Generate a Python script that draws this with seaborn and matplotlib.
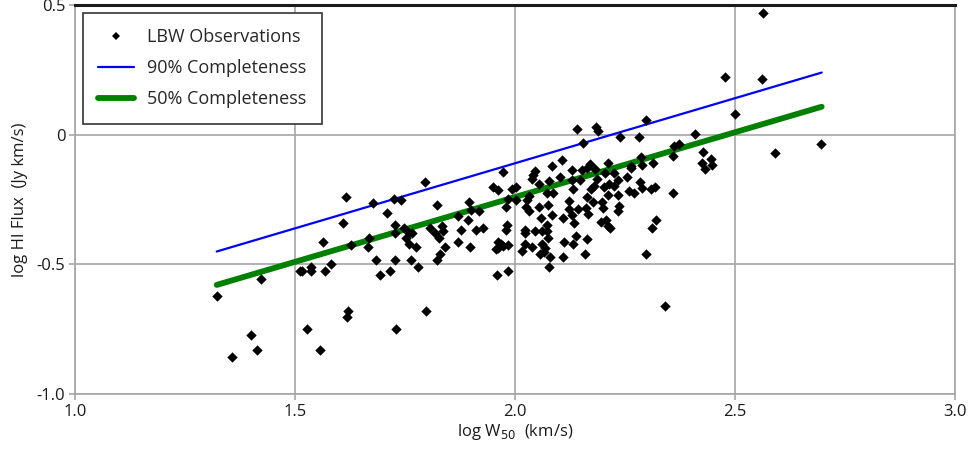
import matplotlib
matplotlib.use("Agg")
import matplotlib.pyplot as plt
import seaborn as sns
import pandas as pd
from matplotlib.lines import Line2D

# log W50 (km/s) of the LBW observations
obs_logw = [
    1.615, 1.677, 1.726, 1.708, 1.610, 1.728, 1.727, 1.564, 1.667, 1.627,
    1.666, 1.683, 1.727, 1.582, 1.537, 1.511, 1.516, 1.536, 1.568, 1.693,
    1.716, 1.423, 1.322, 1.621, 1.617, 1.528, 1.730, 1.401, 1.413, 1.356,
    1.557,
    2.140, 2.106, 2.085, 2.130, 1.973, 2.046, 2.042, 2.038, 2.102, 2.077,
    2.055, 1.795, 1.740, 1.951, 1.962, 1.993, 2.002, 2.072, 2.087, 2.131,
    2.031, 2.027, 1.984, 2.002, 1.895, 1.822, 1.979, 2.026, 2.055, 2.076,
    2.122, 1.899, 1.918, 1.870, 2.031, 2.122, 2.130, 2.085, 2.058, 2.108,
    1.893, 1.748, 1.806, 1.833, 1.837, 1.877, 1.911, 1.928, 1.981, 1.980,
    2.023, 2.023, 2.046, 2.061, 2.072, 2.073, 2.133, 1.760, 1.752, 1.765,
    1.819, 1.828, 1.758, 1.774, 1.842, 1.870, 1.898, 1.961, 1.968, 1.984,
    1.957, 1.962, 1.973, 2.023, 2.038, 2.062, 2.075, 2.069, 2.111, 2.132,
    2.139, 2.016, 2.057, 2.067, 2.080, 2.108, 1.830, 1.823, 1.764, 1.780,
    2.078, 1.958, 1.984, 1.798,
    2.500, 2.409, 2.298, 2.183, 2.189, 2.239, 2.281, 2.155, 2.427, 2.361,
    2.372, 2.358, 2.445, 2.426, 2.448, 2.431, 2.286, 2.314, 2.288, 2.263,
    2.264, 2.211, 2.170, 2.182, 2.163, 2.152, 2.226, 2.205, 2.255, 2.233,
    2.186, 2.147, 2.129, 2.284, 2.214, 2.224, 2.203, 2.180, 2.173, 2.289,
    2.309, 2.319, 2.258, 2.271, 2.358, 2.234, 2.211, 2.163, 2.177, 2.197,
    2.236, 2.200, 2.234, 2.162, 2.167, 2.144, 2.195, 2.207, 2.211, 2.216,
    2.320, 2.311, 2.164, 2.158, 2.298, 2.342,
    2.564, 2.477, 2.561, 2.591, 2.696,
]

# log HI flux (Jy km/s) of the LBW observations
obs_logflux = [
    -0.238, -0.261, -0.247, -0.302, -0.339, -0.349, -0.377, -0.412, -0.399, -0.424,
    -0.434, -0.484, -0.484, -0.498, -0.508, -0.525, -0.526, -0.525, -0.525, -0.541,
    -0.525, -0.555, -0.623, -0.681, -0.703, -0.749, -0.749, -0.773, -0.829, -0.858,
    -0.829,
    0.022, -0.097, -0.120, -0.136, -0.143, -0.138, -0.153, -0.170, -0.163, -0.178,
    -0.188, -0.181, -0.252, -0.202, -0.214, -0.207, -0.201, -0.223, -0.223, -0.210,
    -0.236, -0.251, -0.246, -0.251, -0.260, -0.269, -0.278, -0.277, -0.277, -0.269,
    -0.254, -0.291, -0.295, -0.313, -0.295, -0.287, -0.310, -0.310, -0.320, -0.320,
    -0.329, -0.359, -0.359, -0.351, -0.369, -0.368, -0.368, -0.359, -0.349, -0.368,
    -0.366, -0.380, -0.369, -0.369, -0.369, -0.347, -0.341, -0.377, -0.397, -0.377,
    -0.380, -0.398, -0.420, -0.432, -0.432, -0.412, -0.432, -0.412, -0.420, -0.424,
    -0.440, -0.435, -0.429, -0.420, -0.431, -0.422, -0.397, -0.437, -0.412, -0.421,
    -0.390, -0.448, -0.459, -0.451, -0.470, -0.470, -0.459, -0.484, -0.484, -0.511,
    -0.511, -0.539, -0.526, -0.681,
    0.080, 0.004, 0.057, 0.032, 0.017, -0.008, -0.008, -0.032, -0.067, -0.044,
    -0.036, -0.081, -0.092, -0.107, -0.115, -0.132, -0.086, -0.107, -0.116, -0.119,
    -0.127, -0.107, -0.112, -0.132, -0.126, -0.136, -0.147, -0.148, -0.162, -0.175,
    -0.169, -0.175, -0.175, -0.180, -0.190, -0.196, -0.200, -0.196, -0.210, -0.206,
    -0.208, -0.202, -0.215, -0.223, -0.224, -0.232, -0.232, -0.238, -0.260, -0.260,
    -0.274, -0.283, -0.295, -0.283, -0.305, -0.286, -0.337, -0.328, -0.351, -0.360,
    -0.328, -0.359, -0.400, -0.459, -0.458, -0.661,
    0.470, 0.224, 0.216, -0.071, -0.036,
]

# completeness limits (end points of straight lines)
c90_logw = [1.322, 2.697]
c90_logflux = [-0.450, 0.241]
c50_logw = [1.322, 2.697]
c50_logflux = [-0.579, 0.109]

x_ticks = [1.0, 1.5, 2.0, 2.5, 3.0]
x_ticklabels = ["1.0", "1.5", "2.0", "2.5", "3.0"]
y_ticks = [-1.0, -0.5, 0.0, 0.5]
y_ticklabels = ["-1.0", "-0.5", "0", "0.5"]

obs = pd.DataFrame({"logw": obs_logw, "logflux": obs_logflux})
c90 = pd.DataFrame({"logw": c90_logw, "logflux": c90_logflux})
c50 = pd.DataFrame({"logw": c50_logw, "logflux": c50_logflux})

sns.set_theme(style="white")
plt.rcParams["font.family"] = ["Open Sans", "DejaVu Sans"]

fig = plt.figure(figsize=(9.72, 4.57), dpi=100)
ax = fig.add_axes([0.0772, 0.138, 0.9053, 0.850])

grid_col = "#a6a6a6"
ax.set_xlim(1.0, 3.0)
ax.set_ylim(-1.0, 0.5)
ax.set_xticks(x_ticks)
ax.set_xticklabels(x_ticklabels)
ax.set_yticks(y_ticks)
ax.set_yticklabels(y_ticklabels)
ax.grid(True, color=grid_col, linewidth=1.2)
ax.set_axisbelow(True)

sns.lineplot(data=c90, x="logw", y="logflux", ax=ax, color="#0000ff",
             linewidth=1.6, zorder=2)
sns.lineplot(data=c50, x="logw", y="logflux", ax=ax, color="#008000",
             linewidth=4.2, zorder=2, solid_capstyle="round")
sns.scatterplot(data=obs, x="logw", y="logflux", ax=ax, marker="D", s=28,
                color="black", edgecolor="black", linewidth=0, zorder=3)

for side in ["left", "right", "bottom"]:
    ax.spines[side].set_color(grid_col)
    ax.spines[side].set_linewidth(1.2)
ax.spines["top"].set_color("#1a1a1a")
ax.spines["top"].set_linewidth(2.2)

ax.tick_params(axis="both", which="major", direction="out", length=4,
               width=1.2, color=grid_col, labelsize=12, labelcolor="#1a1a1a",
               bottom=True, left=True, pad=3)

ax.set_xlabel("log W$_{50}$  (km/s)", fontsize=12, color="#1a1a1a", labelpad=2)
ax.set_ylabel("log HI Flux  (Jy km/s)", fontsize=12, color="#1a1a1a", labelpad=6)

handles = [
    Line2D([], [], linestyle="none", marker="D", markersize=4.5,
           color="black", markeredgewidth=0),
    Line2D([], [], color="#0000ff", linewidth=1.6),
    Line2D([], [], color="#008000", linewidth=4.2, solid_capstyle="round"),
]
labels = ["LBW Observations", "90% Completeness", "50% Completeness"]
leg = ax.legend(handles, labels, loc="upper left", bbox_to_anchor=(0.009, 0.981),
                fontsize=13, frameon=True, fancybox=False, framealpha=1,
                edgecolor="#333333", borderpad=0.85, labelspacing=0.72,
                handlelength=2.0, handletextpad=0.7, borderaxespad=0)
leg.get_frame().set_linewidth(1.2)

fig.savefig("out.png", dpi=100)
